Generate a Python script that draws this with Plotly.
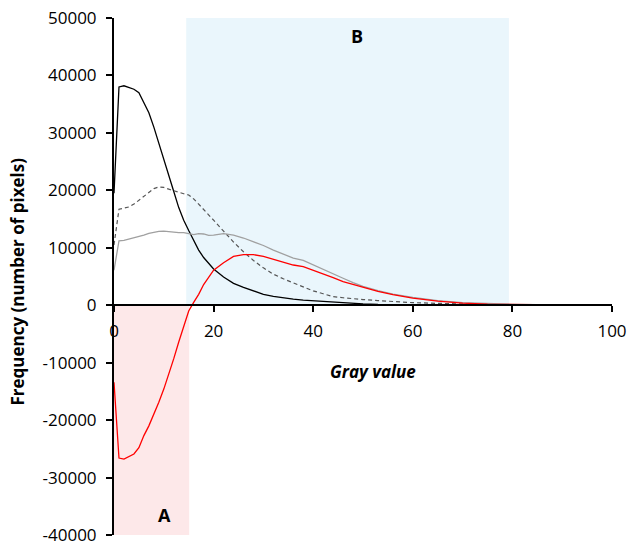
import plotly.graph_objects as go

# Gray value (x) sample positions
gray_values = [0, 1, 2, 3, 4, 5, 6, 7, 8, 9, 10, 11, 12, 13, 14, 15, 16, 17, 18, 19, 20,
               22, 24, 26, 28, 30, 32, 34, 36, 38, 40, 42, 44, 46, 48, 50,
               53, 56, 60, 65, 70, 75, 80, 85, 90, 95, 100]

# Black solid curve
freq_black = [19500, 38000, 38200, 37900, 37600, 37000, 35200, 33500, 31000, 28300, 25400,
              22500, 19800, 17000, 14800, 13000, 11200, 9600, 8300, 7200, 6300,
              4900, 3800, 3100, 2500, 1900, 1550, 1250, 1050, 900, 780, 680, 560, 450, 340, 240,
              150, 100, 60, 30, 20, 10, 5, 0, 0, 0, 0]

# Dark gray dashed curve
freq_dashed = [10500, 16700, 16900, 17100, 17600, 18300, 19000, 19700, 20300, 20600, 20500,
               20200, 19900, 19600, 19400, 19200, 18500, 17600, 16700, 15700, 14800,
               12900, 11000, 9300, 7800, 6500, 5400, 4600, 3900, 3100, 2500, 2000, 1500, 1300, 1100, 990,
               800, 600, 450, 320, 200, 100, 50, 20, 10, 0, 0]

# Light gray solid curve
freq_gray = [6100, 11200, 11300, 11500, 11700, 11900, 12200, 12500, 12700, 12850, 12900,
             12800, 12700, 12650, 12650, 12500, 12300, 12450, 12400, 12150, 12200,
             12450, 12200, 11700, 11100, 10400, 9600, 8900, 8200, 7800, 7000, 6300, 5500, 4700, 3950, 3300,
             2550, 1950, 1350, 800, 450, 270, 160, 100, 60, 20, 0]

# Red curve
freq_red = [-13400, -26600, -26800, -26400, -25900, -24800, -22700, -21000, -19000, -16900, -14600,
            -12100, -9300, -6400, -3500, -1000, 500, 1900, 3600, 4900, 6100,
            7400, 8500, 8800, 8800, 8500, 8000, 7500, 7000, 6700, 6100, 5500, 4800, 4100, 3600, 3050,
            2400, 1850, 1250, 700, 350, 200, 120, 90, 60, 20, 0]

x_ticks = [0, 20, 40, 60, 80, 100]
y_ticks = [-40000, -30000, -20000, -10000, 0, 10000, 20000, 30000, 40000, 50000]
y_tick_text = ["-40000", "-30000", "-20000", "-10000", "0", "10000", "20000", "30000", "40000", "50000"]

region_B = [14.5, 79.3]
region_A = [0, 15.1]

FONT = "Open Sans"

fig = go.Figure()

fig.add_trace(go.Scatter(x=gray_values, y=freq_black, mode="lines",
                         line=dict(color="#000000", width=1.3), showlegend=False))
fig.add_trace(go.Scatter(x=gray_values, y=freq_dashed, mode="lines",
                         line=dict(color="#555555", width=1.2, dash="4px,3px"), showlegend=False))
fig.add_trace(go.Scatter(x=gray_values, y=freq_gray, mode="lines",
                         line=dict(color="#a0a0a0", width=1.3), showlegend=False))
fig.add_trace(go.Scatter(x=gray_values, y=freq_red, mode="lines",
                         line=dict(color="#ff0000", width=1.3), showlegend=False))

fig.add_shape(type="rect", xref="x", yref="y", x0=region_B[0], x1=region_B[1], y0=0, y1=50000,
              fillcolor="#eaf6fc", line=dict(width=0), layer="below")
fig.add_shape(type="rect", xref="x", yref="y", x0=region_A[0], x1=region_A[1], y0=-40000, y1=0,
              fillcolor="#fde8e9", line=dict(width=0), layer="below")

fig.add_annotation(x=48.8, y=46800, xref="x", yref="y", text="<b>B</b>", showarrow=False,
                   font=dict(family=FONT, size=18, color="#000000"))
fig.add_annotation(x=10.2, y=-36500, xref="x", yref="y", text="<b>A</b>", showarrow=False,
                   font=dict(family=FONT, size=18, color="#000000"))
fig.add_annotation(x=52, y=-11500, xref="x", yref="y", text="<b><i>Gray value</i></b>", showarrow=False,
                   font=dict(family=FONT, size=17, color="#000000"))
fig.add_annotation(x=-0.193, y=0.49, xref="paper", yref="paper", text="<b>Frequency (number of pixels)</b>",
                   textangle=-90, showarrow=False, xanchor="center", yanchor="middle",
                   font=dict(family=FONT, size=17, color="#000000"))

fig.update_layout(
    width=630, height=546,
    margin=dict(l=114, r=18, t=18, b=11),
    paper_bgcolor="white", plot_bgcolor="white",
    font=dict(family=FONT, size=17, color="#000000"),
    xaxis=dict(range=[0, 100], tickvals=x_ticks, ticks="outside", ticklen=6, tickwidth=1.5,
               tickcolor="#000000", showline=True, linecolor="#000000", linewidth=2,
               showgrid=False, zeroline=False, anchor="free", position=40000 / 90000,
               automargin=False, ticklabelstandoff=4,
               tickfont=dict(family=FONT, size=17, color="#000000")),
    yaxis=dict(range=[-40000, 50000], tickvals=y_ticks, ticktext=y_tick_text, ticks="outside",
               ticklen=6, tickwidth=1.5, tickcolor="#000000", showline=True, linecolor="#000000",
               linewidth=2, showgrid=False, zeroline=False, automargin=False, ticklabelstandoff=6,
               tickfont=dict(family=FONT, size=17, color="#000000")),
)

fig.write_html("out.html")
